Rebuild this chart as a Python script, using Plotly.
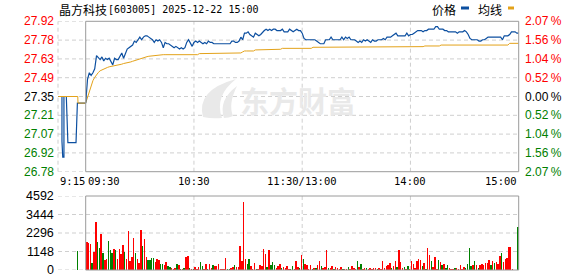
import plotly.graph_objects as go

# ---------------- data ----------------
stock_title = "晶方科技"
stock_info = "[603005] 2025-12-22 15:00"
pre_close = 27.35
price_min, price_max = 26.78, 27.92
price_labels = ["27.92", "27.78", "27.63", "27.49", "27.35", "27.21", "27.07", "26.92", "26.78"]
pct_labels = ["2.07", "1.56", "1.04", "0.52", "0.00", "0.52", "1.04", "1.56", "2.07"]
vol_labels = [4592, 3444, 2296, 1148, 0]
time_ticks = [60, 120, 180]
time_labels = ["10:30", "11:30/13:00", "14:00"]

# call-auction (9:15-9:25) in minutes after 9:15
pre_t = [0.15, 2.0, 2.0, 2.4, 3.0, 3.0, 4.2, 5.0, 9.1, 9.8, 14.1]
pre_price = [27.35, 27.35, 27.01, 26.89, 26.89, 27.35, 27.35, 27.00, 27.00, 27.30, 27.30]
pre_avg_t = [0.15, 10.0, 10.1, 14.1]
pre_avg = [27.35, 27.35, 27.30, 27.30]
pre_vol_t = [10.0]
pre_vol = [1200]

# one value per minute, 9:30 ... 11:30 | 13:01 ... 15:00  (241 points)
price = [
    27.30, 27.48, 27.53, 27.51, 27.53, 27.56, 27.66, 27.64, 27.63, 27.65,
    27.62, 27.64, 27.63, 27.64, 27.61, 27.59, 27.64, 27.63, 27.63, 27.66,
    27.68, 27.64, 27.68, 27.71, 27.72, 27.73, 27.74, 27.77, 27.76, 27.78,
    27.80, 27.78, 27.80, 27.81, 27.81, 27.80, 27.79, 27.78, 27.76, 27.78,
    27.77, 27.78, 27.76, 27.72, 27.76, 27.75, 27.75, 27.74, 27.73, 27.72,
    27.73, 27.72, 27.71, 27.72, 27.71, 27.72, 27.76, 27.78, 27.76, 27.73,
    27.76, 27.77, 27.76, 27.77, 27.76, 27.75, 27.76, 27.75, 27.77, 27.76,
    27.76, 27.75, 27.75, 27.75, 27.75, 27.75, 27.75, 27.75, 27.75, 27.75,
    27.75, 27.77, 27.77, 27.76, 27.76, 27.77, 27.80, 27.78, 27.83, 27.83,
    27.84, 27.82, 27.81, 27.80, 27.83, 27.82, 27.81, 27.82, 27.84, 27.85,
    27.86, 27.85, 27.86, 27.85, 27.86, 27.86, 27.85, 27.85, 27.85, 27.86,
    27.84, 27.84, 27.84, 27.86, 27.85, 27.84, 27.85, 27.86, 27.85, 27.85,
    27.83, 27.79, 27.78, 27.78, 27.78, 27.78, 27.78, 27.78, 27.77, 27.76,
    27.75, 27.75, 27.75, 27.78, 27.78, 27.78, 27.80, 27.78, 27.78, 27.78,
    27.78, 27.78, 27.80, 27.78, 27.80, 27.79, 27.80, 27.78, 27.78, 27.78,
    27.77, 27.76, 27.77, 27.76, 27.78, 27.77, 27.78, 27.77, 27.76, 27.78,
    27.77, 27.77, 27.78, 27.78, 27.78, 27.79, 27.78, 27.80, 27.80, 27.80,
    27.81, 27.82, 27.83, 27.81, 27.81, 27.81, 27.81, 27.81, 27.83, 27.81,
    27.82, 27.82, 27.83, 27.84, 27.85, 27.85, 27.85, 27.84, 27.85, 27.85,
    27.86, 27.86, 27.86, 27.86, 27.88, 27.88, 27.86, 27.86, 27.86, 27.85,
    27.85, 27.84, 27.84, 27.84, 27.84, 27.84, 27.83, 27.84, 27.84, 27.84,
    27.85, 27.84, 27.82, 27.79, 27.78, 27.78, 27.78, 27.78, 27.77, 27.77,
    27.78, 27.78, 27.79, 27.80, 27.80, 27.80, 27.80, 27.80, 27.80, 27.80,
    27.80, 27.78, 27.81, 27.81, 27.81, 27.82, 27.84, 27.84, 27.84, 27.83,
    27.83,
]

avg_price = [
    27.300, 27.345, 27.395, 27.437, 27.470, 27.495, 27.517, 27.532, 27.545, 27.552,
    27.562, 27.565, 27.570, 27.575, 27.577, 27.580, 27.582, 27.585, 27.587, 27.592,
    27.595, 27.600, 27.602, 27.607, 27.610, 27.612, 27.617, 27.622, 27.627, 27.632,
    27.637, 27.640, 27.645, 27.650, 27.652, 27.655, 27.657, 27.660, 27.662, 27.662,
    27.662, 27.667, 27.667, 27.667, 27.667, 27.667, 27.667, 27.667, 27.667, 27.667,
    27.667, 27.667, 27.667, 27.667, 27.667, 27.667, 27.667, 27.667, 27.667, 27.667,
    27.667, 27.667, 27.667, 27.675, 27.675, 27.675, 27.675, 27.675, 27.675, 27.675,
    27.675, 27.675, 27.675, 27.680, 27.680, 27.680, 27.680, 27.680, 27.680, 27.680,
    27.680, 27.680, 27.680, 27.680, 27.680, 27.680, 27.680, 27.688, 27.695, 27.695,
    27.695, 27.695, 27.695, 27.695, 27.703, 27.703, 27.703, 27.703, 27.703, 27.703,
    27.703, 27.708, 27.708, 27.708, 27.708, 27.708, 27.708, 27.708, 27.708, 27.715,
    27.715, 27.715, 27.715, 27.715, 27.715, 27.715, 27.715, 27.715, 27.715, 27.715,
    27.715, 27.715, 27.715, 27.715, 27.715, 27.715, 27.723, 27.723, 27.723, 27.723,
    27.723, 27.723, 27.723, 27.723, 27.723, 27.723, 27.723, 27.723, 27.723, 27.723,
    27.723, 27.723, 27.723, 27.723, 27.723, 27.723, 27.723, 27.723, 27.723, 27.723,
    27.723, 27.723, 27.723, 27.723, 27.723, 27.723, 27.723, 27.723, 27.723, 27.723,
    27.723, 27.723, 27.723, 27.723, 27.723, 27.723, 27.723, 27.723, 27.723, 27.728,
    27.728, 27.728, 27.728, 27.728, 27.728, 27.728, 27.728, 27.728, 27.728, 27.728,
    27.728, 27.728, 27.728, 27.728, 27.728, 27.728, 27.728, 27.728, 27.733, 27.733,
    27.733, 27.733, 27.733, 27.733, 27.733, 27.733, 27.733, 27.740, 27.740, 27.740,
    27.740, 27.740, 27.740, 27.740, 27.740, 27.740, 27.740, 27.740, 27.740, 27.740,
    27.740, 27.740, 27.740, 27.740, 27.740, 27.740, 27.740, 27.740, 27.740, 27.740,
    27.740, 27.740, 27.740, 27.740, 27.740, 27.740, 27.740, 27.740, 27.740, 27.740,
    27.740, 27.740, 27.740, 27.740, 27.740, 27.753, 27.753, 27.753, 27.753, 27.753,
    27.753,
]

volume = [
    0, 1740, 1680, 1610, 410, 1120, 2980, 1740, 1370, 2240,
    1060, 620, 680, 1800, 1240, 1060, 1300, 1240, 680, 1300,
    990, 1550, 1120, 680, 2420, 560, 810, 1990, 1060, 680,
    430, 2480, 1490, 1930, 810, 620, 620, 750, 750, 500,
    680, 620, 370, 370, 310, 500, 250, 190, 120, 60,
    120, 370, 310, 60, 60, 120, 810, 870, 120, 60,
    60, 190, 60, 190, 500, 250, 60, 370, 60, 370,
    120, 310, 250, 250, 370, 60, 60, 60, 750, 60,
    60, 120, 190, 310, 190, 190, 1490, 560, 4220, 680,
    370, 680, 250, 60, 430, 60, 60, 310, 250, 1300,
    990, 190, 1240, 310, 500, 310, 120, 250, 370, 120,
    190, 120, 250, 60, 60, 250, 60, 560, 190, 120,
    930, 680, 370, 310, 60, 310, 60, 120, 120, 310,
    560, 250, 120, 190, 1240, 120, 120, 250, 60, 190,
    120, 60, 190, 60, 60, 60, 190, 60, 250, 120,
    60, 560, 190, 370, 60, 120, 120, 60, 120, 60,
    120, 120, 60, 120, 60, 560, 120, 250, 310, 430,
    120, 250, 560, 190, 1240, 500, 120, 190, 60, 250,
    60, 560, 370, 120, 560, 680, 620, 250, 430, 60,
    1370, 930, 560, 190, 810, 60, 620, 500, 310, 370,
    120, 310, 120, 60, 60, 120, 120, 60, 310, 60,
    190, 120, 370, 1370, 250, 310, 560, 310, 120, 310,
    370, 310, 430, 430, 620, 310, 560, 430, 500, 370,
    870, 1060, 500, 680, 750, 1430, 1430, 60, 0, 0,
    2670,
]

# r = up (red), g = down (green), one letter per minute
vol_dir = (
    "rrrrgrrggr" "grrgggrgrr" "rrgrrrrrgr" "rrgrrggggr"
    "rrggrrggrr" "rgrgrgrrgr" "grrrggrrgr" "rgrrrrrrrg"
    "grrgrrrrrr" "ggrrrgrrrr" "rgrgggrrrg" "rrrrggrrrg"
    "rgrrrrgrgr" "rgrrrgrrgr" "rrrgrrgrrr" "rgrgrrgrrr"
    "rrgrrrrrrr" "grrgrrrgrg" "rrrrrrrgrg" "rrgrrrgrgr"
    "ggrrrgrrrr" "rggggrgrgr" "rrrrrgrgrr" "rgrrrrrrrr"
    "g"
)

# ---------------- layout constants (pixels) ----------------
W, H = 578, 276
X0, X1 = 85.7, 518.7      # main session box
XP = 58.0                 # left edge of the call-auction zone
PY0, PY1 = 21.3, 171.7    # price panel top / bottom
VY0, VY1 = 196.0, 270.0   # volume panel top / bottom

BLUE = "#0c4fa0"
ORANGE = "#e3a21a"
RED = "#ff0000"
GREEN = "#008000"
GRID = "#cfcfcf"
BOX = "#9a9a9a"
WM = "#e9e9e9"
NUM_FONT = "Liberation Sans"
MONO_FONT = "DejaVu Sans Mono"
CJK_FONT = "Noto Sans CJK SC"


def px(x):
    return x / W


def py(y):
    return 1 - y / H


minutes = list(range(len(price)))
bar_colors = [RED if d == "r" else GREEN for d in vol_dir]

fig = go.Figure()
fig.add_trace(go.Scatter(x=pre_t, y=pre_price, mode="lines", xaxis="x3", yaxis="y",
                         line=dict(color=BLUE, width=1.2), hoverinfo="skip"))
fig.add_trace(go.Scatter(x=pre_avg_t, y=pre_avg, mode="lines", xaxis="x3", yaxis="y",
                         line=dict(color=ORANGE, width=1), hoverinfo="skip"))
fig.add_trace(go.Scatter(x=minutes, y=avg_price, mode="lines", xaxis="x", yaxis="y",
                         line=dict(color=ORANGE, width=1), hoverinfo="skip"))
fig.add_trace(go.Scatter(x=minutes, y=price, mode="lines", xaxis="x", yaxis="y",
                         line=dict(color=BLUE, width=1.2), hoverinfo="skip"))
# each minute's bar is drawn just left of its tick, so the 15:00 bar sits inside the box
fig.add_trace(go.Bar(x=minutes, y=volume, xaxis="x", yaxis="y2", width=0.8, offset=-0.8,
                     marker=dict(color=bar_colors, line=dict(width=0)), hoverinfo="skip"))
fig.add_trace(go.Bar(x=pre_vol_t, y=pre_vol, xaxis="x3", yaxis="y2", width=0.7,
                     marker=dict(color=GREEN, line=dict(width=0)), hoverinfo="skip"))

hidden = dict(showgrid=False, zeroline=False, showticklabels=False, showline=False, ticks="")
fig.update_layout(
    width=W, height=H, margin=dict(l=0, r=0, t=0, b=0),
    paper_bgcolor="white", plot_bgcolor="rgba(0,0,0,0)",
    showlegend=False, barmode="overlay", bargap=0,
    xaxis=dict(domain=[px(X0), px(X1)], range=[0, 240], anchor="y", **hidden),
    xaxis3=dict(domain=[px(XP), px(X0)], range=[0, 14], anchor="y", **hidden),
    yaxis=dict(domain=[py(PY1), py(PY0)], range=[price_min, price_max], anchor="x", **hidden),
    yaxis2=dict(domain=[py(VY1), py(VY0)], range=[0, vol_labels[0]], anchor="x", **hidden),
)

shapes = []
dash = "4px,3px"
n = len(price_labels) - 1
levels = [price_max - k * (price_max - price_min) / n for k in range(n + 1)]
for k, lv in enumerate(levels):
    xr = px(X0) if k in (0, n) else px(X1)
    shapes.append(dict(type="line", xref="paper", yref="y", x0=px(XP), x1=xr, y0=lv, y1=lv,
                       line=dict(color=GRID, width=1, dash=dash), layer="below"))
for k, v in enumerate(vol_labels):
    xr = px(X0) if k in (0, len(vol_labels) - 1) else px(X1)
    shapes.append(dict(type="line", xref="paper", yref="y2", x0=px(XP), x1=xr, y0=v, y1=v,
                       line=dict(color=GRID, width=1, dash=dash), layer="below"))
for t in time_ticks:
    shapes.append(dict(type="line", xref="x", yref="y", x0=t, x1=t, y0=price_min, y1=price_max,
                       line=dict(color=GRID, width=1, dash=dash), layer="below"))
    shapes.append(dict(type="line", xref="x", yref="y2", x0=t, x1=t, y0=0, y1=vol_labels[0],
                       line=dict(color=GRID, width=1, dash=dash), layer="below"))
shapes.append(dict(type="line", xref="paper", yref="y", x0=px(XP), x1=px(XP), y0=price_min, y1=price_max,
                   line=dict(color=GRID, width=1, dash=dash), layer="below"))

# watermark swoosh (decorative)
def pth(pts):
    s = "M %.5f,%.5f" % (px(pts[0][0]), py(pts[0][1]))
    for i in range(1, len(pts), 2):
        s += " Q %.5f,%.5f %.5f,%.5f" % (px(pts[i][0]), py(pts[i][1]), px(pts[i + 1][0]), py(pts[i + 1][1]))
    return s + " Z"

shapes.append(dict(type="path", xref="paper", yref="paper", layer="below",
                   path=pth([(203, 117), (196, 90), (236, 79), (214, 96), (222, 118), (212, 119), (203, 117)]),
                   fillcolor=WM, line=dict(width=0)))
shapes.append(dict(type="path", xref="paper", yref="paper", layer="below",
                   path=pth([(224, 118), (218, 100), (237, 86), (228, 104), (233, 116), (229, 118), (224, 118)]),
                   fillcolor=WM, line=dict(width=0)))

# boxes
shapes.append(dict(type="rect", xref="paper", yref="paper", x0=px(X0), x1=px(X1), y0=py(PY1), y1=py(PY0),
                   line=dict(color=BOX, width=1), fillcolor="rgba(0,0,0,0)"))
shapes.append(dict(type="rect", xref="paper", yref="paper", x0=px(X0), x1=px(X1), y0=py(VY1), y1=py(VY0),
                   line=dict(color=BOX, width=1), fillcolor="rgba(0,0,0,0)"))
# legend marks
shapes.append(dict(type="rect", xref="paper", yref="paper", x0=px(461), x1=px(469), y0=py(9.5), y1=py(6.5),
                   line=dict(width=0), fillcolor=BLUE))
shapes.append(dict(type="rect", xref="paper", yref="paper", x0=px(508), x1=px(514), y0=py(9.5), y1=py(6.5),
                   line=dict(width=0), fillcolor=ORANGE))

ann = []
for k, lv in enumerate(levels):
    col = RED if k < n / 2 else ("#000000" if k == n / 2 else GREEN)
    ann.append(dict(xref="paper", yref="y", x=px(56), y=lv, text=price_labels[k], showarrow=False,
                    xanchor="right", yanchor="middle", font=dict(family=NUM_FONT, size=12, color=col)))
    ann.append(dict(xref="paper", yref="y", x=px(523), y=lv, text=pct_labels[k] + "\u2009%", showarrow=False,
                    xanchor="left", yanchor="middle", font=dict(family=NUM_FONT, size=12, color=col)))
for v in vol_labels:
    ann.append(dict(xref="paper", yref="y2", x=px(56), y=v, text=str(v), showarrow=False,
                    xanchor="right", yanchor="middle", font=dict(family=NUM_FONT, size=12.5, color="#000")))
ty = py(181)
tfont = dict(family=MONO_FONT, size=10.5, color="#000")
ann.append(dict(xref="x3", yref="paper", x=0, y=ty, text="9:15", showarrow=False, xanchor="left",
                yanchor="middle", font=tfont))
ann.append(dict(xref="x", yref="paper", x=0, y=ty, text="09:30", showarrow=False, xanchor="left",
                yanchor="middle", font=tfont))
for t, lab in zip(time_ticks, time_labels):
    ann.append(dict(xref="x", yref="paper", x=t, y=ty, text=lab, showarrow=False, xanchor="center",
                    yanchor="middle", font=tfont))
ann.append(dict(xref="x", yref="paper", x=240, y=ty, text="15:00", showarrow=False, xanchor="right",
                yanchor="middle", font=tfont))
# title
ann.append(dict(xref="paper", yref="paper", x=px(57), y=py(9.5), text=stock_title, showarrow=False,
                xanchor="left", yanchor="middle", font=dict(family=CJK_FONT, size=12, color="#000")))
ann.append(dict(xref="paper", yref="paper", x=px(106), y=py(9.5), text=stock_info, showarrow=False,
                xanchor="left", yanchor="middle", font=dict(family=MONO_FONT, size=10, color="#000")))
# legend text
ann.append(dict(xref="paper", yref="paper", x=px(430), y=py(9.5), text="价格", showarrow=False,
                xanchor="left", yanchor="middle", font=dict(family=CJK_FONT, size=12, color="#000")))
ann.append(dict(xref="paper", yref="paper", x=px(476), y=py(9.5), text="均线", showarrow=False,
                xanchor="left", yanchor="middle", font=dict(family=CJK_FONT, size=12, color="#000")))
# watermark text
ann.append(dict(xref="paper", yref="paper", x=px(238), y=py(100), text="<b>东方财富</b>", showarrow=False,
                xanchor="left", yanchor="middle", font=dict(family=CJK_FONT, size=29, color=WM)))

fig.update_layout(shapes=shapes, annotations=ann)
fig.write_html("out.html", config={"displayModeBar": False, "staticPlot": True})
